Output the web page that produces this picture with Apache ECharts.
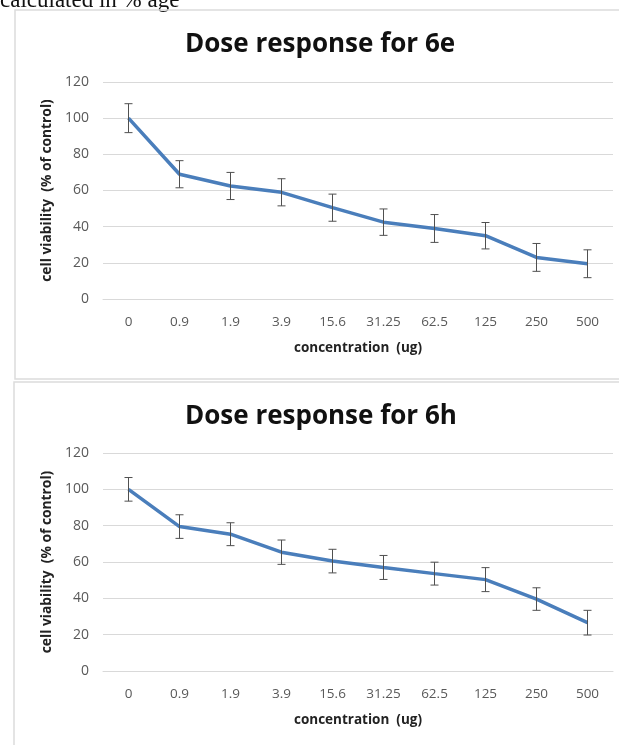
<!DOCTYPE html>
<html>
<head>
<meta charset="utf-8">
<script src="https://cdn.jsdelivr.net/npm/echarts@6/dist/echarts.min.js"></script>
<style>
  html, body { margin: 0; padding: 0; background: #fff; }
  #myChart { width: 619px; height: 745px; }
</style>
</head>
<body>
<div id="myChart"></div>
<script>
  // 浓度类别（两张图共用）
  var categories = ['0', '0.9', '1.9', '3.9', '15.6', '31.25', '62.5', '125', '250', '500'];
  // 6e 的平均值和误差
  var values6e = [100, 69, 62.5, 59, 50.5, 42.5, 39, 35, 23, 19.5];
  var err6e = [8, 7.5, 7.5, 7.5, 7.5, 7.3, 7.7, 7.3, 7.7, 7.7];
  // 6h 的平均值和误差
  var values6h = [100, 79.5, 75.3, 65.4, 60.5, 57, 53.6, 50.3, 39.6, 26.6];
  var err6h = [6.5, 6.5, 6.3, 6.7, 6.5, 6.6, 6.3, 6.6, 6.2, 6.8];
  var yTicks = [0, 20, 40, 60, 80, 100, 120];

  var blue = '#4a7ebb';
  var gridColor = '#d9d9d9';
  var labelColor = '#595959';
  var font = '"Open Sans", Lato, sans-serif';

  function errData(vals, errs) {
    return vals.map(function (v, i) { return [i, v - errs[i], v + errs[i]]; });
  }

  function renderErr(params, api) {
    var lo = api.coord([api.value(0), api.value(1)]);
    var hi = api.coord([api.value(0), api.value(2)]);
    var w = 4;
    var st = { stroke: '#505050', lineWidth: 1 };
    return {
      type: 'group',
      children: [
        { type: 'line', shape: { x1: lo[0], y1: lo[1], x2: hi[0], y2: hi[1] }, style: st },
        { type: 'line', shape: { x1: hi[0] - w, y1: hi[1], x2: hi[0] + w, y2: hi[1] }, style: st },
        { type: 'line', shape: { x1: lo[0] - w, y1: lo[1], x2: lo[0] + w, y2: lo[1] }, style: st }
      ]
    };
  }

  function xAxis(idx) {
    return {
      type: 'category', gridIndex: idx, data: categories, boundaryGap: true,
      name: 'concentration  (ug)', nameLocation: 'middle', nameGap: 42,
      nameTextStyle: { fontFamily: font, fontWeight: 'bold', fontSize: 13.5, color: '#222' },
      axisLine: { lineStyle: { color: gridColor, width: 1 } },
      axisTick: { show: false },
      axisLabel: { fontFamily: font, fontSize: 13.5, color: labelColor, margin: 16 }
    };
  }

  function yAxis(idx) {
    return {
      type: 'value', gridIndex: idx, min: 0, max: yTicks[yTicks.length - 1], interval: 20,
      name: 'cell viability  (% of control)', nameLocation: 'middle', nameGap: 46,
      nameTextStyle: { fontFamily: font, fontWeight: 'bold', fontSize: 13.8, color: '#222' },
      axisLine: { show: false }, axisTick: { show: false },
      splitLine: { lineStyle: { color: gridColor, width: 1 } },
      axisLabel: { fontFamily: font, fontSize: 14, color: labelColor, margin: 14 }
    };
  }

  var myChart = echarts.init(document.getElementById('myChart'));
  myChart.setOption({
    animation: false,
    backgroundColor: '#fff',
    title: [
      { text: 'Dose response for 6e', left: 180, top: 27,
        textStyle: { fontFamily: font, fontSize: 26, fontWeight: 'bold', color: '#111' } },
      { text: 'Dose response for 6h', left: 180, top: 399,
        textStyle: { fontFamily: font, fontSize: 26, fontWeight: 'bold', color: '#111' } }
    ],
    graphic: [
      { type: 'text', left: 0, top: -11,
        style: { text: 'calculated in % age', font: '23px "Liberation Serif", serif', fill: '#111' } },
      { type: 'rect', shape: { x: 15, y: 10, width: 640, height: 369 },
        style: { fill: 'none', stroke: '#dcdcdc', lineWidth: 1.5 } },
      { type: 'rect', shape: { x: 14, y: 382, width: 640, height: 400 },
        style: { fill: 'none', stroke: '#dcdcdc', lineWidth: 1.5 } }
    ],
    grid: [
      { left: 103, top: 82, width: 510, height: 217 },
      { left: 103, top: 453, width: 510, height: 218 }
    ],
    xAxis: [xAxis(0), xAxis(1)],
    yAxis: [yAxis(0), yAxis(1)],
    series: [
      { type: 'line', xAxisIndex: 0, yAxisIndex: 0, data: values6e, symbol: 'none',
        lineStyle: { color: blue, width: 3.5 }, z: 2 },
      { type: 'custom', xAxisIndex: 0, yAxisIndex: 0, data: errData(values6e, err6e),
        renderItem: renderErr, z: 3 },
      { type: 'line', xAxisIndex: 1, yAxisIndex: 1, data: values6h, symbol: 'none',
        lineStyle: { color: blue, width: 3.5 }, z: 2 },
      { type: 'custom', xAxisIndex: 1, yAxisIndex: 1, data: errData(values6h, err6h),
        renderItem: renderErr, z: 3 }
    ]
  });
</script>
</body>
</html>
